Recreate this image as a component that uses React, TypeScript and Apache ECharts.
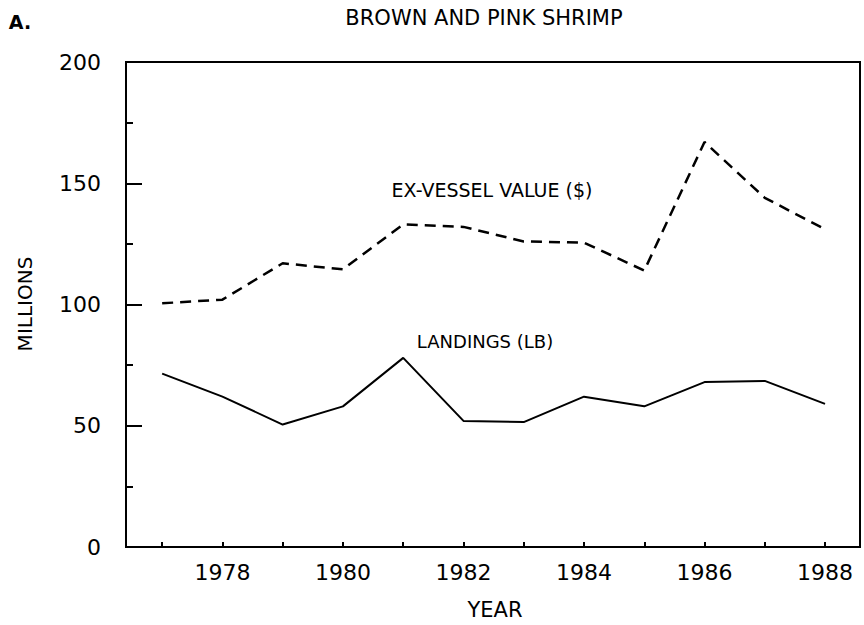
import React, { useEffect, useRef } from "react";
import * as echarts from "echarts";

const years = [1977, 1978, 1979, 1980, 1981, 1982, 1983, 1984, 1985, 1986, 1987, 1988];
const exVesselValue = [100.5, 102, 117, 114.5, 133, 132, 126, 125.5, 114, 167, 144, 131];
const landings = [71.5, 62, 50.5, 58, 78, 52, 51.5, 62, 58, 68, 68.5, 59];
const xLabelYears = [1978, 1980, 1982, 1984, 1986, 1988];
const FONT = "DejaVu Sans";

export default function App() {
  const ref = useRef<HTMLDivElement>(null);
  useEffect(() => {
    if (!ref.current) return;
    const chart = echarts.init(ref.current, null, { renderer: "svg" });
    const pair = (vals: number[]) => years.map((y, i) => [y, vals[i]]);
    chart.setOption({
      animation: false,
      backgroundColor: "#fff",
      grid: {
        left: 126,
        right: 4,
        top: 62,
        bottom: 78,
        show: true,
        borderColor: "#000",
        borderWidth: 2,
      },
      xAxis: {
        type: "value",
        min: 1976.4,
        max: 1988.58,
        splitLine: { show: false },
        axisLine: { show: true, lineStyle: { color: "#000", width: 2 } },
        axisTick: {
          show: true,
          inside: true,
          length: 5,
          customValues: years,
          lineStyle: { color: "#000", width: 2 },
        },
        axisLabel: {
          customValues: xLabelYears,
          margin: 14,
          color: "#000",
          fontFamily: FONT,
          fontSize: 22,
          formatter: (v: number) => String(v),
        },
      },
      yAxis: {
        type: "value",
        min: 0,
        max: 200,
        interval: 50,
        splitLine: { show: false },
        axisLine: { show: true, lineStyle: { color: "#000", width: 2 } },
        axisTick: { show: true, inside: true, length: 16, lineStyle: { color: "#000", width: 2 } },
        minorTick: { show: true, splitNumber: 2, length: 7, lineStyle: { color: "#000", width: 2 } },
        axisLabel: {
          margin: 25,
          color: "#000",
          fontFamily: FONT,
          fontSize: 22,
        },
      },
      series: [
        {
          type: "line",
          name: "EX-VESSEL VALUE ($)",
          data: pair(exVesselValue),
          symbol: "none",
          lineStyle: { color: "#000", width: 2.5, type: [11, 7] },
        },
        {
          type: "line",
          name: "LANDINGS (LB)",
          data: pair(landings),
          symbol: "none",
          lineStyle: { color: "#000", width: 2 },
        },
      ],
      graphic: [
        {
          type: "text",
          x: 20,
          y: 22,
          style: { text: "A.", font: `bold 19px '${FONT}'`, fill: "#000", align: "center", verticalAlign: "middle" },
        },
        {
          type: "text",
          x: 484,
          y: 18,
          style: { text: "BROWN AND PINK SHRIMP", font: `21px '${FONT}'`, fill: "#000", align: "center", verticalAlign: "middle" },
        },
        {
          type: "text",
          x: 492,
          y: 190,
          style: { text: "EX-VESSEL VALUE ($)", font: `19px '${FONT}'`, fill: "#000", align: "center", verticalAlign: "middle" },
        },
        {
          type: "text",
          x: 485,
          y: 341,
          style: { text: "LANDINGS (LB)", font: `18px '${FONT}'`, fill: "#000", align: "center", verticalAlign: "middle" },
        },
        {
          type: "text",
          x: 25,
          y: 304,
          rotation: Math.PI / 2,
          style: { text: "MILLIONS", font: `20px '${FONT}'`, fill: "#000", align: "center", verticalAlign: "middle" },
        },
        {
          type: "text",
          x: 495,
          y: 610,
          style: { text: "YEAR", font: `21px '${FONT}'`, fill: "#000", align: "center", verticalAlign: "middle" },
        },
      ],
    });
    return () => chart.dispose();
  }, []);
  return <div ref={ref} style={{ width: 864, height: 625, position: "absolute", left: 0, top: 0 }} />;
}
